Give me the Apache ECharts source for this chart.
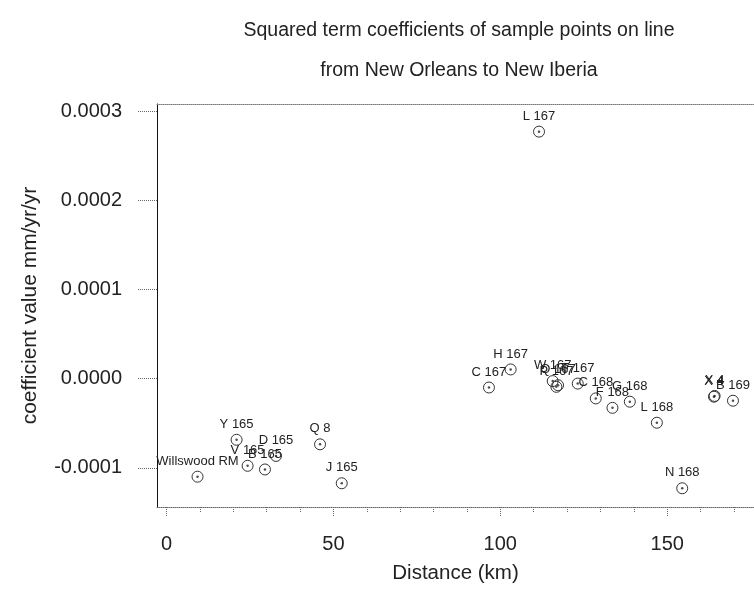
<!DOCTYPE html>
<html>
<head>
<meta charset="utf-8">
<script src="https://cdn.jsdelivr.net/npm/echarts@6/dist/echarts.min.js"></script>
<style>
html,body{margin:0;padding:0;background:#fff;}
#c{width:754px;height:589px;}
</style>
</head>
<body>
<div id="c"></div>
<script>
// Sample point names, distance along line (km), squared-term coefficient (mm/yr/yr)
const pointNames = ["Willswood RM","Y 165","V 165","B 165","D 165","Q 8","J 165",
  "C 167","H 167","L 167","W 167","P 167","Q 167","T 167",
  "C 168","F 168","G 168","L 168","N 168","X 4","X 4","B 169"];
const distances = [9.3,21.0,24.3,29.5,32.8,46.0,52.5,
  96.6,103.1,111.6,115.7,116.8,117.3,123.2,
  128.6,133.6,138.8,146.9,154.5,164.0,164.2,169.7];
const coefficients = [-0.000110,-0.0000686,-0.0000978,-0.0001019,-0.0000867,-0.0000737,-0.0001174,
  -0.0000100,0.0000103,0.000277,-0.0000028,-0.0000092,-0.0000074,-0.0000056,
  -0.0000222,-0.0000328,-0.0000259,-0.0000495,-0.0001230,-0.0000203,-0.0000194,-0.0000248];

const xMajorTicks = [0,50,100,150];
const xMinorTicks = [0,10,20,30,40,50,60,70,80,90,100,110,120,130,140,150,160,170];
const yTicks = [-0.0001,0,0.0001,0.0002,0.0003];

const titleText = "Squared term coefficients of sample points on line\nfrom New Orleans to New Iberia";
const xName = "Distance (km)";
const yName = "coefficient value mm/yr/yr";

const pts = pointNames.map((n,i)=>({name:n, value:[distances[i], coefficients[i]]}));

const FONT = "'Liberation Sans', Arial, sans-serif";
const XMIN = -2.84, XMAX = 176, YMIN = -0.000144, YMAX = 0.000308;

const chart = echarts.init(document.getElementById('c'), null, {renderer:'canvas'});
chart.setOption({
  animation:false,
  backgroundColor:'#fff',
  textStyle:{fontFamily:FONT},
  title:{
    text:titleText,
    left:454, top:6, textAlign:'center',
    textStyle:{fontSize:19.5, fontWeight:'normal', color:'#222', lineHeight:40, fontFamily:FONT}
  },
  grid:{left:157, top:104, right:0, bottom:78, containLabel:false},
  xAxis:[
    {type:'value', min:XMIN, max:XMAX, position:'bottom',
     axisLine:{show:true, onZero:false, lineStyle:{color:'#666', type:'dotted', width:1}},
     axisTick:{show:true, customValues:xMajorTicks, length:10, lineStyle:{color:'#666', type:'dotted'}},
     axisLabel:{show:true, customValues:xMajorTicks, fontSize:20, color:'#222', margin:27, fontFamily:FONT},
     splitLine:{show:false},
     name:xName, nameLocation:'middle', nameGap:56,
     nameTextStyle:{fontSize:20.5, color:'#222', fontFamily:FONT}},
    {type:'value', min:XMIN, max:XMAX, position:'bottom',
     axisLine:{show:false, onZero:false},
     axisTick:{show:true, customValues:xMinorTicks, length:6, lineStyle:{color:'#666', type:'dotted'}},
     axisLabel:{show:false}, splitLine:{show:false}},
    {type:'value', min:XMIN, max:XMAX, position:'top',
     axisLine:{show:true, onZero:false, lineStyle:{color:'#777', type:'dotted', width:1}},
     axisTick:{show:false}, axisLabel:{show:false}, splitLine:{show:false}}
  ],
  yAxis:[
    {type:'value', min:YMIN, max:YMAX, position:'left',
     axisLine:{show:true, onZero:false, lineStyle:{color:'#111', width:1}},
     axisTick:{show:true, customValues:yTicks, length:20, lineStyle:{color:'#666', type:'dotted'}},
     axisLabel:{show:true, customValues:yTicks, fontSize:20, color:'#222', margin:35, fontFamily:FONT,
       formatter:v=>Number(v).toFixed(4)},
     splitLine:{show:false},
     name:yName, nameLocation:'middle', nameGap:116, nameRotate:90,
     nameTextStyle:{fontSize:21, color:'#222', fontFamily:FONT}}
  ],
  series:[
    {type:'scatter', xAxisIndex:0, yAxisIndex:0, data:pts,
     symbol:'circle', symbolSize:11,
     itemStyle:{color:'rgba(255,255,255,0)', borderColor:'#333', borderWidth:1, opacity:1},
     label:{show:true, position:'top', distance:3, formatter:'{b}', fontSize:13, color:'#222', fontFamily:FONT},
     emphasis:{disabled:true}},
    {type:'scatter', xAxisIndex:0, yAxisIndex:0, data:pts, silent:true,
     symbol:'circle', symbolSize:2.5, itemStyle:{color:'#222'},
     label:{show:false}, emphasis:{disabled:true}}
  ]
});
</script>
</body>
</html>
